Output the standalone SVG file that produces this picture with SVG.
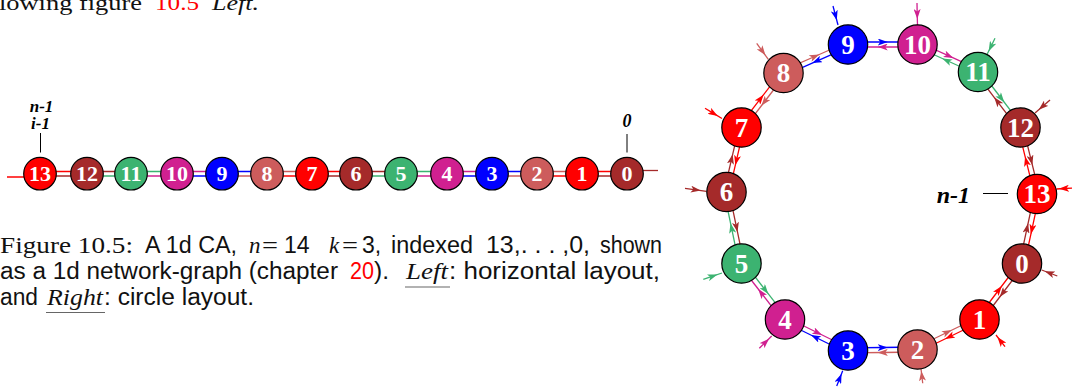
<svg xmlns="http://www.w3.org/2000/svg" width="1072" height="388" viewBox="0 0 1072 388">
<style>
.n circle{stroke:#000;stroke-width:1.2}
.n text{font-family:"Liberation Serif",serif;font-weight:bold;fill:#fff;text-anchor:middle}
.big text{font-size:27px}
.sm text{font-size:22px}
.lk path,.lk line{fill:none;stroke-width:1.3}
.r{stroke:#ff0000}.b{stroke:#a52a2a}.g{stroke:#3cb371}.v{stroke:#d02090}.u{stroke:#0000ff}.i{stroke:#cd5c5c}
.lbl{font-family:"Liberation Serif",serif;font-weight:bold;font-style:italic;fill:#000}
.tick{stroke:#000;stroke-width:1}
.cap{font-family:"Liberation Sans",Arial,sans-serif;font-size:23px;fill:#111}
.rm{font-family:"Liberation Serif",serif}
.it{font-family:"Liberation Serif",serif;font-style:italic}
.red{fill:#ff0000}
</style>
<defs>
<marker id="ar" viewBox="0 0 10 7" refX="5" refY="3.5" markerWidth="10" markerHeight="7" markerUnits="userSpaceOnUse" orient="auto"><path d="M0,0 L10,3.5 L0,7 L2.5,3.5z" fill="#ff0000"/></marker>
<marker id="ab" viewBox="0 0 10 7" refX="5" refY="3.5" markerWidth="10" markerHeight="7" markerUnits="userSpaceOnUse" orient="auto"><path d="M0,0 L10,3.5 L0,7 L2.5,3.5z" fill="#a52a2a"/></marker>
<marker id="ag" viewBox="0 0 10 7" refX="5" refY="3.5" markerWidth="10" markerHeight="7" markerUnits="userSpaceOnUse" orient="auto"><path d="M0,0 L10,3.5 L0,7 L2.5,3.5z" fill="#3cb371"/></marker>
<marker id="av" viewBox="0 0 10 7" refX="5" refY="3.5" markerWidth="10" markerHeight="7" markerUnits="userSpaceOnUse" orient="auto"><path d="M0,0 L10,3.5 L0,7 L2.5,3.5z" fill="#d02090"/></marker>
<marker id="au" viewBox="0 0 10 7" refX="5" refY="3.5" markerWidth="10" markerHeight="7" markerUnits="userSpaceOnUse" orient="auto"><path d="M0,0 L10,3.5 L0,7 L2.5,3.5z" fill="#0000ff"/></marker>
<marker id="ai" viewBox="0 0 10 7" refX="5" refY="3.5" markerWidth="10" markerHeight="7" markerUnits="userSpaceOnUse" orient="auto"><path d="M0,0 L10,3.5 L0,7 L2.5,3.5z" fill="#cd5c5c"/></marker>
</defs>

<!-- top text -->
<text class="rm" y="9.5" font-size="22" fill="#111"><tspan x="-1" textLength="143" lengthAdjust="spacingAndGlyphs">lowing figure</tspan><tspan x="155" class="red" textLength="44" lengthAdjust="spacingAndGlyphs">10.5</tspan><tspan x="212" class="it" textLength="47" lengthAdjust="spacingAndGlyphs">Left.</tspan></text>

<!-- horizontal layout connectors -->
<g id="hlinks" class="lk">
<line class="r" x1="7" y1="177" x2="40" y2="177"/>
<line class="b" x1="627" y1="170.5" x2="658" y2="170.5"/>
<line class="r" x1="40" y1="171.5" x2="87" y2="171.5"/><line class="b" x1="40" y1="176" x2="87" y2="176"/>
<line class="b" x1="87" y1="171.5" x2="131" y2="171.5"/><line class="g" x1="87" y1="176" x2="131" y2="176"/>
<line class="g" x1="131" y1="171.5" x2="177" y2="171.5"/><line class="v" x1="131" y1="176" x2="177" y2="176"/>
<line class="v" x1="177" y1="171.5" x2="222" y2="171.5"/><line class="u" x1="177" y1="176" x2="222" y2="176"/>
<line class="u" x1="222" y1="171.5" x2="267" y2="171.5"/><line class="i" x1="222" y1="176" x2="267" y2="176"/>
<line class="i" x1="267" y1="171.5" x2="312" y2="171.5"/><line class="r" x1="267" y1="176" x2="312" y2="176"/>
<line class="r" x1="312" y1="171.5" x2="356" y2="171.5"/><line class="b" x1="312" y1="176" x2="356" y2="176"/>
<line class="b" x1="356" y1="171.5" x2="401" y2="171.5"/><line class="g" x1="356" y1="176" x2="401" y2="176"/>
<line class="g" x1="401" y1="171.5" x2="447" y2="171.5"/><line class="v" x1="401" y1="176" x2="447" y2="176"/>
<line class="v" x1="447" y1="171.5" x2="492" y2="171.5"/><line class="u" x1="447" y1="176" x2="492" y2="176"/>
<line class="u" x1="492" y1="171.5" x2="537" y2="171.5"/><line class="i" x1="492" y1="176" x2="537" y2="176"/>
<line class="i" x1="537" y1="171.5" x2="582" y2="171.5"/><line class="r" x1="537" y1="176" x2="582" y2="176"/>
<line class="r" x1="582" y1="171.5" x2="627" y2="171.5"/><line class="b" x1="582" y1="176" x2="627" y2="176"/>
</g>

<!-- horizontal labels -->
<g id="hlabels">
<text class="lbl" x="41.5" y="111.5" font-size="17" text-anchor="middle">n-1</text>
<text class="lbl" x="40.5" y="128.5" font-size="17" text-anchor="middle">i-1</text>
<line class="tick" x1="40.5" y1="133" x2="40.5" y2="152.5"/>
<text class="lbl" x="627" y="127" font-size="18" text-anchor="middle">0</text>
<line class="tick" x1="627" y1="134" x2="627" y2="152.5"/>
</g>

<!-- horizontal nodes -->
<g class="n sm">
<g id="h13"><circle cx="40" cy="173.7" r="16.3" fill="#ff0000"/><text x="40" y="181.3">13</text></g>
<g id="h12"><circle cx="87" cy="173.7" r="16.3" fill="#a52a2a"/><text x="87" y="181.3">12</text></g>
<g id="h11"><circle cx="131" cy="173.7" r="16.3" fill="#3cb371"/><text x="131" y="181.3">11</text></g>
<g id="h10"><circle cx="177" cy="173.7" r="16.3" fill="#d02090"/><text x="177" y="181.3">10</text></g>
<g id="h9"><circle cx="222" cy="173.7" r="16.3" fill="#0000ff"/><text x="222" y="181.3">9</text></g>
<g id="h8"><circle cx="267" cy="173.7" r="16.3" fill="#cd5c5c"/><text x="267" y="181.3">8</text></g>
<g id="h7"><circle cx="312" cy="173.7" r="16.3" fill="#ff0000"/><text x="312" y="181.3">7</text></g>
<g id="h6"><circle cx="356" cy="173.7" r="16.3" fill="#a52a2a"/><text x="356" y="181.3">6</text></g>
<g id="h5"><circle cx="401" cy="173.7" r="16.3" fill="#3cb371"/><text x="401" y="181.3">5</text></g>
<g id="h4"><circle cx="447" cy="173.7" r="16.3" fill="#d02090"/><text x="447" y="181.3">4</text></g>
<g id="h3"><circle cx="492" cy="173.7" r="16.3" fill="#0000ff"/><text x="492" y="181.3">3</text></g>
<g id="h2"><circle cx="537" cy="173.7" r="16.3" fill="#cd5c5c"/><text x="537" y="181.3">2</text></g>
<g id="h1"><circle cx="582" cy="173.7" r="16.3" fill="#ff0000"/><text x="582" y="181.3">1</text></g>
<g id="h0"><circle cx="627" cy="173.7" r="16.3" fill="#a52a2a"/><text x="627" y="181.3">0</text></g>
</g>

<!-- caption -->
<text class="cap" y="253"><tspan class="rm" x="0" textLength="133" lengthAdjust="spacingAndGlyphs">Figure 10.5:</tspan><tspan x="145" textLength="92" lengthAdjust="spacingAndGlyphs">A 1d CA,</tspan><tspan class="it" x="249">n</tspan><tspan class="rm" x="262" textLength="16" lengthAdjust="spacingAndGlyphs">=</tspan><tspan x="284">14</tspan><tspan class="it" x="329">k</tspan><tspan class="rm" x="342" textLength="16" lengthAdjust="spacingAndGlyphs">=</tspan><tspan x="362">3,</tspan><tspan x="391" textLength="82" lengthAdjust="spacingAndGlyphs">indexed</tspan><tspan x="486" textLength="104" lengthAdjust="spacingAndGlyphs">13,. . . ,0,</tspan><tspan x="600" textLength="62" lengthAdjust="spacingAndGlyphs">shown</tspan></text>
<text class="cap" y="279"><tspan x="0" textLength="338" lengthAdjust="spacingAndGlyphs">as a 1d network-graph (chapter</tspan><tspan x="350" class="red" textLength="24" lengthAdjust="spacingAndGlyphs">20</tspan><tspan x="374" textLength="15" lengthAdjust="spacingAndGlyphs">).</tspan><tspan class="it" x="406" textLength="42" lengthAdjust="spacingAndGlyphs">Left</tspan><tspan x="449" textLength="211" lengthAdjust="spacingAndGlyphs">: horizontal layout,</tspan></text>
<text class="cap" y="305"><tspan x="0" textLength="38" lengthAdjust="spacingAndGlyphs">and</tspan><tspan class="it" x="47" textLength="56" lengthAdjust="spacingAndGlyphs">Right</tspan><tspan x="104" textLength="150" lengthAdjust="spacingAndGlyphs">: circle layout.</tspan></text>
<line x1="405" y1="287" x2="450" y2="287" stroke="#666" stroke-width="1.2"/>
<line x1="46" y1="312.5" x2="105" y2="312.5" stroke="#666" stroke-width="1.2"/>

<!-- circle layout connectors -->
<g id="clinks" class="lk">
<g transform="translate(1022,263.5) rotate(127.2)"><path class="b" d="M0,-2.5 H35.15 H70.3" marker-mid="url(#ab)"/><path class="r" d="M70.3,2.5 H35.15 H0" marker-mid="url(#ar)"/></g>
<g transform="translate(979.5,319.5) rotate(154.2)"><path class="r" d="M0,-2.5 H34.45 H68.9" marker-mid="url(#ar)"/><path class="i" d="M68.9,2.5 H34.45 H0" marker-mid="url(#ai)"/></g>
<g transform="translate(917.5,349.5) rotate(179.2)"><path class="i" d="M0,-2.5 H34.75 H69.5" marker-mid="url(#ai)"/><path class="u" d="M69.5,2.5 H34.75 H0" marker-mid="url(#au)"/></g>
<g transform="translate(848,350.5) rotate(-153.8)"><path class="u" d="M0,-2.5 H35.1 H70.2" marker-mid="url(#au)"/><path class="v" d="M70.2,2.5 H35.1 H0" marker-mid="url(#av)"/></g>
<g transform="translate(785,319.5) rotate(-127.8)"><path class="v" d="M0,-2.5 H35.45 H70.9" marker-mid="url(#av)"/><path class="g" d="M70.9,2.5 H35.45 H0" marker-mid="url(#ag)"/></g>
<g transform="translate(741.5,263.5) rotate(-101.8)"><path class="g" d="M0,-2.5 H36.55 H73.1" marker-mid="url(#ag)"/><path class="b" d="M73.1,2.5 H36.55 H0" marker-mid="url(#ab)"/></g>
<g transform="translate(726.5,192) rotate(-76.9)"><path class="b" d="M0,-2.5 H33.1 H66.2" marker-mid="url(#ab)"/><path class="r" d="M66.2,2.5 H33.1 H0" marker-mid="url(#ar)"/></g>
<g transform="translate(741.5,127.5) rotate(-52.4)"><path class="r" d="M0,-2.5 H34.4 H68.8" marker-mid="url(#ar)"/><path class="i" d="M68.8,2.5 H34.4 H0" marker-mid="url(#ai)"/></g>
<g transform="translate(783.5,73) rotate(-23.8)"><path class="i" d="M0,-2.5 H35.25 H70.5" marker-mid="url(#ai)"/><path class="u" d="M70.5,2.5 H35.25 H0" marker-mid="url(#au)"/></g>
<g transform="translate(848,44.5) rotate(0)"><path class="u" d="M0,-2.5 H34.75 H69.5" marker-mid="url(#au)"/><path class="v" d="M69.5,2.5 H34.75 H0" marker-mid="url(#av)"/></g>
<g transform="translate(917.5,44.5) rotate(24.4)"><path class="v" d="M0,-2.5 H33.25 H66.5" marker-mid="url(#av)"/><path class="g" d="M66.5,2.5 H33.25 H0" marker-mid="url(#ag)"/></g>
<g transform="translate(978,72) rotate(52.6)"><path class="g" d="M0,-2.5 H34.95 H69.9" marker-mid="url(#ag)"/><path class="b" d="M69.9,2.5 H34.95 H0" marker-mid="url(#ab)"/></g>
<g transform="translate(1020.5,127.5) rotate(76.1)"><path class="b" d="M0,-2.5 H34.25 H68.5" marker-mid="url(#ab)"/><path class="r" d="M68.5,2.5 H34.25 H0" marker-mid="url(#ar)"/></g>
<g transform="translate(1037,194) rotate(102.2)"><path class="r" d="M0,-2.5 H35.55 H71.1" marker-mid="url(#ar)"/><path class="b" d="M71.1,2.5 H35.55 H0" marker-mid="url(#ab)"/></g>
<!-- self inputs -->
<path class="u" d="M833,6 L835.5,15.5 L838,25" marker-mid="url(#au)"/>
<path class="v" d="M917,3 L917.2,14 L917.5,25" marker-mid="url(#av)"/>
<path class="i" d="M756.7,43.3 L762.5,51.3 L768.3,59.3" marker-mid="url(#ai)"/>
<path class="g" d="M995,38.3 L990.9,46.7 L986.7,55" marker-mid="url(#ag)"/>
<path class="b" d="M1050,100 L1042.5,106.5 L1035,113" marker-mid="url(#ab)"/>
<path class="r" d="M1074,188 L1064,188.5 L1056.5,189" marker-mid="url(#ar)"/>
<path class="r" d="M705,108.3 L713.5,113.4 L722,118.5" marker-mid="url(#ar)"/>
<path class="b" d="M685,188.3 L695.8,189.8 L706.5,191.3" marker-mid="url(#ab)"/>
<path class="g" d="M703.3,279.3 L712.7,276.2 L722,273" marker-mid="url(#ag)"/>
<path class="v" d="M759.3,348.3 L765.5,342.2 L771.7,336" marker-mid="url(#av)"/>
<path class="u" d="M836.7,386 L839.7,378.4 L842.7,370.7" marker-mid="url(#au)"/>
<path class="i" d="M922.7,383.3 L921.9,376 L921,369" marker-mid="url(#ai)"/>
<path class="r" d="M1005,346.7 L1000.5,340.9 L996,335" marker-mid="url(#ar)"/>
<path class="b" d="M1057.3,276 L1049.5,273 L1041.7,270" marker-mid="url(#ab)"/>
</g>

<!-- circle label -->
<g id="clabel">
<text class="lbl" x="970" y="203" font-size="24" text-anchor="end">n-1</text>
<line class="tick" x1="983" y1="193.5" x2="1008" y2="193.5"/>
</g>

<!-- circle nodes -->
<g class="n big">
<g id="c13"><circle cx="1037" cy="194" r="19.7" fill="#ff0000"/><text x="1037" y="203.3">13</text></g>
<g id="c12"><circle cx="1020.5" cy="127.5" r="19.7" fill="#a52a2a"/><text x="1020.5" y="136.8">12</text></g>
<g id="c11"><circle cx="978" cy="72" r="19.7" fill="#3cb371"/><text x="978" y="81.3">11</text></g>
<g id="c10"><circle cx="917.5" cy="44.5" r="19.7" fill="#d02090"/><text x="917.5" y="53.8">10</text></g>
<g id="c9"><circle cx="848" cy="44.5" r="19.7" fill="#0000ff"/><text x="848" y="53.8">9</text></g>
<g id="c8"><circle cx="783.5" cy="73" r="19.7" fill="#cd5c5c"/><text x="783.5" y="82.3">8</text></g>
<g id="c7"><circle cx="741.5" cy="127.5" r="19.7" fill="#ff0000"/><text x="741.5" y="136.8">7</text></g>
<g id="c6"><circle cx="726.5" cy="192" r="19.7" fill="#a52a2a"/><text x="726.5" y="201.3">6</text></g>
<g id="c5"><circle cx="741.5" cy="263.5" r="19.7" fill="#3cb371"/><text x="741.5" y="272.8">5</text></g>
<g id="c4"><circle cx="785" cy="319.5" r="19.7" fill="#d02090"/><text x="785" y="328.8">4</text></g>
<g id="c3"><circle cx="848" cy="350.5" r="19.7" fill="#0000ff"/><text x="848" y="359.8">3</text></g>
<g id="c2"><circle cx="917.5" cy="349.5" r="19.7" fill="#cd5c5c"/><text x="917.5" y="358.8">2</text></g>
<g id="c1"><circle cx="979.5" cy="319.5" r="19.7" fill="#ff0000"/><text x="979.5" y="328.8">1</text></g>
<g id="c0"><circle cx="1022" cy="263.5" r="19.7" fill="#a52a2a"/><text x="1022" y="272.8">0</text></g>
</g>
</svg>
